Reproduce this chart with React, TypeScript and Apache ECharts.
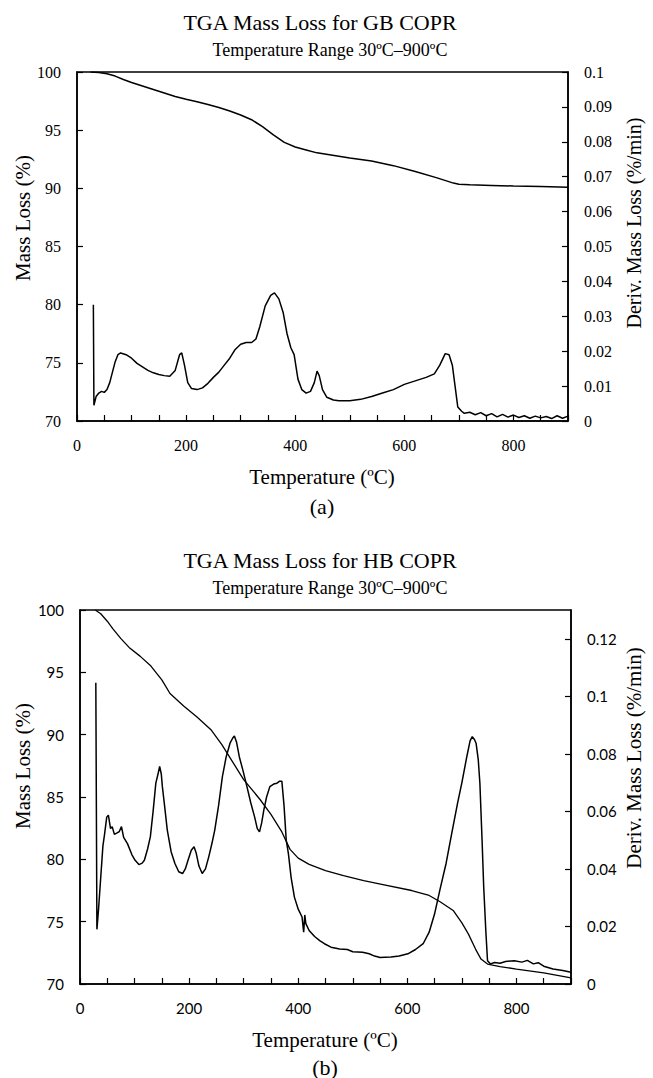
import React, { useEffect, useRef } from "react";
import * as echarts from "echarts";

// ---------- (a) GB COPR ----------
const gbMassT = [25, 40, 55, 70, 85, 100, 120, 140, 160, 180, 200, 220, 240, 260, 280, 300, 320, 340, 360, 380, 400, 420, 440, 460, 480, 500, 540, 580, 620, 660, 690, 700, 720, 760, 800, 850, 900];
const gbMassV = [100, 99.95, 99.85, 99.65, 99.35, 99.1, 98.8, 98.5, 98.2, 97.9, 97.65, 97.45, 97.2, 96.95, 96.65, 96.3, 95.9, 95.3, 94.6, 93.95, 93.55, 93.3, 93.05, 92.9, 92.75, 92.6, 92.35, 91.95, 91.45, 90.9, 90.45, 90.35, 90.3, 90.25, 90.2, 90.15, 90.1];

const gbDerivT = [30, 31, 35, 40, 45, 50, 55, 60, 65, 70, 75, 80, 90, 100, 110, 120, 130, 140, 150, 160, 170, 180, 188, 192, 197, 203, 210, 220, 230, 240, 250, 260, 270, 280, 290, 300, 310, 320, 328, 335, 345, 355, 362, 370, 378, 385, 392, 398, 405, 412, 420, 428, 435, 440, 444, 450, 458, 470, 480, 500, 520, 540, 560, 580, 600, 620, 640, 655, 665, 675, 682, 688, 693, 698, 705, 710, 720, 730, 740, 750, 760, 770, 780, 790, 800, 810, 820, 830, 840, 850, 860, 870, 880, 890, 900];
const gbDerivV = [0.0333, 0.0045, 0.007, 0.008, 0.0085, 0.0082, 0.009, 0.011, 0.014, 0.017, 0.019, 0.0195, 0.019, 0.018, 0.0165, 0.0155, 0.0145, 0.0138, 0.0133, 0.013, 0.0128, 0.0145, 0.019, 0.0195, 0.016, 0.011, 0.0093, 0.009, 0.0095, 0.0108, 0.0125, 0.014, 0.016, 0.018, 0.0205, 0.022, 0.0225, 0.0225, 0.0235, 0.027, 0.033, 0.036, 0.0367, 0.035, 0.031, 0.025, 0.021, 0.019, 0.012, 0.009, 0.008, 0.0085, 0.011, 0.0143, 0.013, 0.009, 0.0068, 0.006, 0.0058, 0.0058, 0.0062, 0.007, 0.008, 0.009, 0.0105, 0.0115, 0.0125, 0.0135, 0.016, 0.0193, 0.019, 0.016, 0.01, 0.004, 0.0028, 0.0022, 0.0025, 0.0018, 0.0024, 0.0015, 0.0021, 0.0012, 0.0019, 0.0011, 0.0017, 0.001, 0.0015, 0.0008, 0.0014, 0.0009, 0.0013, 0.0007, 0.0015, 0.0008, 0.0014, 0.0009];

// ---------- (b) HB COPR ----------
const hbMassT = [28, 38, 50, 60, 75, 90, 110, 130, 150, 165, 190, 215, 240, 260, 280, 300, 330, 350, 370, 385, 400, 420, 450, 483, 520, 553, 608, 640, 660, 684, 700, 712, 725, 735, 747, 770, 800, 850, 900];
const hbMassV = [100, 99.7, 99.1, 98.5, 97.7, 97.0, 96.3, 95.5, 94.4, 93.3, 92.3, 91.4, 90.4, 89.2, 87.8, 86.4, 84.8, 83.6, 82.2, 80.8, 80.1, 79.6, 79.1, 78.7, 78.3, 78.0, 77.5, 77.1, 76.6, 75.9, 74.9, 74.0, 72.8, 72.0, 71.6, 71.4, 71.2, 70.9, 70.5];

const hbDerivT = [29, 31, 34, 38, 42, 45, 49, 52, 56, 59, 63, 68, 72, 76, 80, 87, 95, 101, 108, 114, 118, 124, 129, 134, 139, 143, 146, 149, 151, 155, 160, 167, 174, 181, 188, 193, 198, 204, 209, 213, 218, 224, 230, 236, 242, 247, 254, 261, 268, 275, 280, 283, 287, 292, 299, 306, 313, 320, 325, 329, 333, 337, 342, 348, 355, 361, 366, 370, 374, 378, 382, 387, 393, 400, 407, 410, 412, 414, 420, 430, 440, 448, 460, 476, 490, 500, 518, 530, 540, 550, 559, 570, 585, 601, 615, 629, 640, 650, 660, 671, 682, 692, 700, 709, 715, 719, 723, 726, 730, 733, 737, 740, 744, 747, 752, 760, 770, 780, 796, 810, 820, 831, 840, 850, 867, 885, 900];
const hbDerivV = [0.1047, 0.019, 0.026, 0.037, 0.048, 0.052, 0.058, 0.0587, 0.054, 0.0547, 0.052, 0.0525, 0.053, 0.0547, 0.051, 0.0488, 0.045, 0.043, 0.0415, 0.042, 0.043, 0.047, 0.0512, 0.06, 0.0698, 0.073, 0.0756, 0.073, 0.0686, 0.062, 0.0535, 0.046, 0.0419, 0.039, 0.0384, 0.04, 0.043, 0.0465, 0.0477, 0.0455, 0.041, 0.0384, 0.04, 0.0442, 0.049, 0.0535, 0.062, 0.0721, 0.079, 0.0837, 0.0855, 0.0862, 0.084, 0.079, 0.074, 0.0686, 0.063, 0.0581, 0.054, 0.0529, 0.056, 0.0605, 0.065, 0.0686, 0.0695, 0.0698, 0.0705, 0.0705, 0.062, 0.05, 0.0453, 0.037, 0.0302, 0.026, 0.0233, 0.018, 0.024, 0.021, 0.0186, 0.0165, 0.015, 0.014, 0.0128, 0.0122, 0.012, 0.0112, 0.011, 0.0105, 0.0097, 0.0092, 0.0093, 0.0094, 0.0097, 0.0105, 0.012, 0.014, 0.018, 0.0244, 0.033, 0.0419, 0.053, 0.0628, 0.07, 0.079, 0.0845, 0.086, 0.085, 0.0837, 0.078, 0.0698, 0.05, 0.0337, 0.018, 0.0081, 0.007, 0.0075, 0.0072, 0.0078, 0.0081, 0.0076, 0.0082, 0.007, 0.0074, 0.0062, 0.0052, 0.0047, 0.0041];

const xTicks = [0, 200, 400, 600, 800];

const SERIF = '"Liberation Serif", "Times New Roman", serif';
const SANS = 'Lato, "Noto Sans", sans-serif';

const zip = (t: number[], v: number[]) => t.map((x, i) => [x, v[i]]);

export default function App() {
  const ref = useRef<HTMLDivElement>(null);
  useEffect(() => {
    if (!ref.current) return;
    const chart = echarts.init(ref.current, null, { renderer: "svg" });
    const black = "#000";
    const axisCommon = (font: string, size: number) => ({
      axisLine: { show: true, lineStyle: { color: black, width: 1.5 } },
      axisTick: { show: true, inside: true, length: 6, lineStyle: { color: black, width: 1.2 } },
      splitLine: { show: false },
      axisLabel: { color: black, fontFamily: font, fontSize: size, margin: 16 },
    });
    const xAx = (gi: number, font: string, size: number) => ({
      type: "value", gridIndex: gi, min: 0, max: 900, interval: 50,
      ...axisCommon(font, size),
      axisLabel: {
        color: black, fontFamily: font, fontSize: size, margin: 16,
        formatter: (v: number) => (xTicks.includes(v) ? String(v) : ""),
      },
    });
    const txt = (text: string, x: number, y: number, size: number, rot = 0) => ({
      type: "text", x, y, rotation: rot,
      style: { text, font: `${size}px ${SERIF}`, fill: black, textAlign: "center", verticalAlign: "middle", textVerticalAlign: "middle" },
    });
    const line = (data: number[][], xi: number, yi: number, w: number) => ({
      type: "line", xAxisIndex: xi, yAxisIndex: yi, data, showSymbol: false, symbol: "none",
      lineStyle: { color: black, width: w }, silent: true,
    });
    chart.setOption({
      animation: false,
      backgroundColor: "#fff",
      grid: [
        { left: 77, top: 72, width: 491, height: 349, show: true, borderColor: black, borderWidth: 1.5 },
        { left: 80, top: 610, width: 491, height: 374, show: true, borderColor: black, borderWidth: 1.5 },
      ],
      xAxis: [xAx(0, SERIF, 16), xAx(1, SANS, 15)],
      yAxis: [
        { type: "value", gridIndex: 0, min: 70, max: 100, interval: 5, position: "left", ...axisCommon(SERIF, 16) },
        { type: "value", gridIndex: 0, min: 0, max: 0.1, interval: 0.01, position: "right", ...axisCommon(SERIF, 16) },
        { type: "value", gridIndex: 1, min: 70, max: 100, interval: 5, position: "left", ...axisCommon(SANS, 15) },
        {
          type: "value", gridIndex: 1, min: 0, max: 0.13, interval: 0.02, position: "right", ...axisCommon(SANS, 15),
          axisLabel: { color: black, fontFamily: SANS, fontSize: 15, margin: 16, showMaxLabel: false,
            formatter: (v: number) => (v > 0.125 ? "" : String(+v.toFixed(2))) },
        },
      ],
      graphic: [
        txt("TGA Mass Loss for GB COPR", 320, 22, 22),
        txt("Temperature Range 30ºC–900ºC", 330, 50, 18),
        txt("Mass Loss (%)", 23, 218, 21, Math.PI / 2),
        txt("Deriv. Mass Loss (%/min)", 634, 223, 20, Math.PI / 2),
        txt("Temperature (ºC)", 322, 477, 21),
        txt("(a)", 322, 506, 22),
        txt("TGA Mass Loss for HB COPR", 320, 560, 22),
        txt("Temperature Range 30ºC–900ºC", 330, 588, 18),
        txt("Mass Loss (%)", 23, 766, 21, Math.PI / 2),
        txt("Deriv. Mass Loss (%/min)", 634, 758, 21, Math.PI / 2),
        txt("Temperature (ºC)", 325, 1040, 21),
        txt("(b)", 325, 1067, 22),
      ],
      series: [
        line(zip(gbMassT, gbMassV), 0, 0, 1.5),
        line(zip(gbDerivT, gbDerivV), 0, 1, 1.5),
        line(zip(hbMassT, hbMassV), 1, 2, 1.3),
        line(zip(hbDerivT, hbDerivV), 1, 3, 1.5),
      ],
    });
    return () => chart.dispose();
  }, []);
  return <div ref={ref} style={{ position: "absolute", left: 0, top: 0, width: 653, height: 1078 }} />;
}
